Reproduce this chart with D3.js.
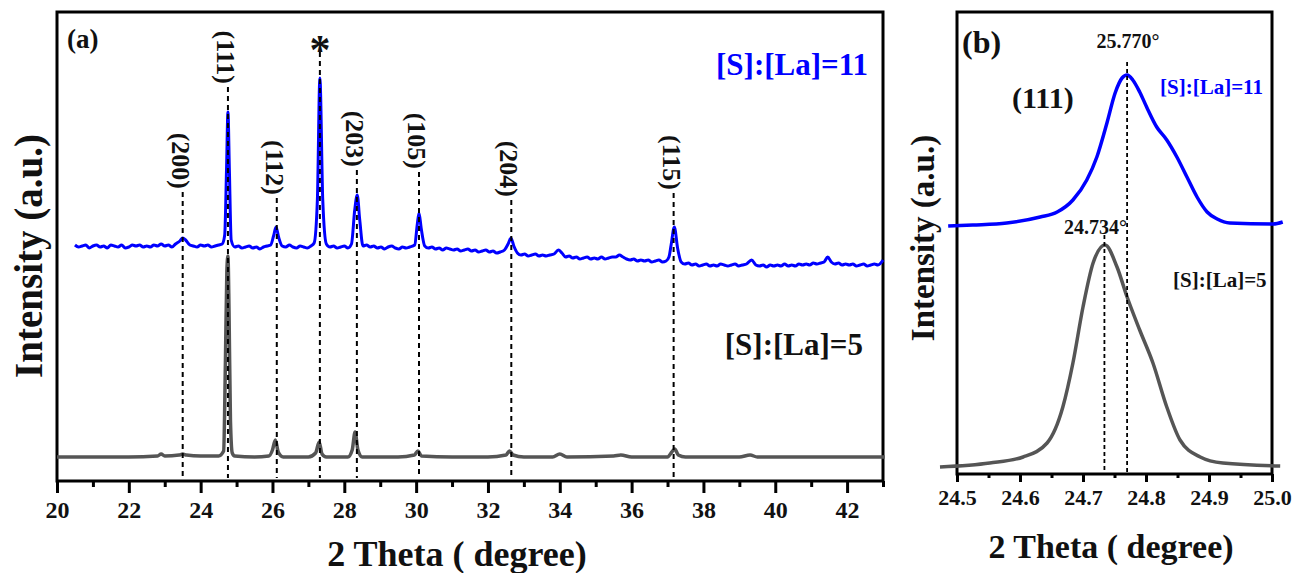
<!DOCTYPE html>
<html>
<head>
<meta charset="utf-8">
<script src="https://cdn.jsdelivr.net/npm/d3@7"></script>
<style>
  body { margin: 0; background: #fff; }
</style>
</head>
<body>
<svg id="chart" width="1293" height="573"></svg>
<script>
// panel (a): full scans, [2theta, intensity (a.u.)]
const scanS11 = [
    [20.50, 236], [20.60, 234], [20.70, 235], [20.80, 236], [20.90, 233], [21.00, 235], [21.10, 236],
    [21.20, 234], [21.30, 235], [21.40, 233], [21.50, 236], [21.60, 235], [21.70, 234], [21.80, 236],
    [21.90, 233], [22.00, 234], [22.10, 236], [22.20, 235], [22.30, 236], [22.40, 234], [22.50, 235],
    [22.60, 234], [22.70, 236], [22.80, 235], [22.90, 237], [23.00, 235], [23.10, 236], [23.20, 234],
    [23.30, 237], [23.42, 240], [23.50, 243], [23.58, 241], [23.70, 236], [23.80, 235], [23.90, 234],
    [24.00, 236], [24.10, 235], [24.20, 236], [24.30, 234], [24.40, 235], [24.50, 236], [24.60, 237],
    [24.67, 246], [24.72, 311], [24.76, 369], [24.80, 311], [24.85, 241], [24.95, 234], [25.05, 235],
    [25.15, 233], [25.25, 234], [25.35, 235], [25.45, 233], [25.55, 234], [25.65, 232], [25.75, 234],
    [25.85, 235], [25.95, 236], [26.03, 245], [26.10, 254], [26.17, 244], [26.27, 235], [26.37, 234],
    [26.47, 236], [26.57, 234], [26.67, 233], [26.77, 235], [26.87, 234], [26.97, 233], [27.07, 235],
    [27.16, 238], [27.25, 281], [27.32, 403], [27.40, 281], [27.50, 237], [27.60, 234], [27.70, 235],
    [27.80, 233], [27.90, 234], [28.00, 235], [28.10, 233], [28.20, 237], [28.29, 271], [28.36, 286],
    [28.43, 261], [28.52, 235], [28.62, 236], [28.72, 234], [28.82, 235], [28.92, 233], [29.02, 234],
    [29.12, 232], [29.22, 234], [29.32, 235], [29.42, 233], [29.52, 232], [29.62, 234], [29.72, 233],
    [29.82, 234], [29.96, 236], [30.03, 256], [30.08, 268], [30.14, 253], [30.24, 235], [30.34, 233],
    [30.44, 234], [30.54, 232], [30.64, 233], [30.74, 231], [30.84, 233], [30.94, 232], [31.04, 231],
    [31.14, 232], [31.24, 230], [31.34, 231], [31.44, 232], [31.54, 230], [31.64, 231], [31.74, 229],
    [31.84, 230], [31.94, 231], [32.04, 229], [32.14, 230], [32.24, 228], [32.34, 229], [32.46, 231],
    [32.56, 237], [32.64, 243], [32.72, 235], [32.82, 228], [32.92, 226], [33.02, 227], [33.12, 225],
    [33.22, 226], [33.32, 227], [33.42, 225], [33.52, 226], [33.62, 225], [33.72, 226], [33.84, 227],
    [33.96, 231], [34.06, 228], [34.16, 224], [34.26, 225], [34.36, 223], [34.46, 224], [34.56, 222],
    [34.66, 223], [34.76, 224], [34.86, 222], [34.96, 223], [35.06, 222], [35.16, 224], [35.26, 222],
    [35.36, 223], [35.46, 224], [35.56, 224], [35.66, 226], [35.76, 224], [35.86, 222], [35.96, 221],
    [36.06, 222], [36.16, 220], [36.26, 221], [36.36, 220], [36.46, 221], [36.56, 219], [36.66, 220],
    [36.76, 221], [36.86, 219], [36.96, 220], [37.04, 224], [37.10, 236], [37.19, 254], [37.28, 233],
    [37.38, 219], [37.48, 217], [37.58, 218], [37.68, 216], [37.78, 217], [37.88, 215], [37.98, 216],
    [38.08, 217], [38.18, 215], [38.28, 216], [38.38, 215], [38.48, 217], [38.58, 216], [38.68, 215],
    [38.78, 216], [38.88, 217], [38.98, 215], [39.08, 216], [39.20, 217], [39.34, 221], [39.46, 216],
    [39.56, 215], [39.66, 216], [39.76, 214], [39.86, 216], [39.96, 215], [40.06, 216], [40.16, 215],
    [40.26, 217], [40.36, 215], [40.46, 216], [40.56, 215], [40.66, 217], [40.76, 216], [40.86, 217],
    [40.96, 216], [41.06, 218], [41.16, 217], [41.26, 218], [41.36, 219], [41.46, 224], [41.56, 219],
    [41.66, 217], [41.76, 218], [41.86, 216], [41.96, 217], [42.06, 216], [42.16, 217], [42.26, 215],
    [42.36, 216], [42.46, 217], [42.56, 215], [42.66, 216], [42.76, 217], [42.86, 216], [42.94, 218],
    [43.00, 221]
];
const scanS5 = [
    [20.00, 24], [21.00, 24], [22.00, 24], [22.80, 25], [22.90, 27], [23.00, 25], [23.40, 26],
    [23.50, 27], [23.60, 26], [24.00, 25], [24.50, 25], [24.64, 30], [24.69, 120], [24.73, 210],
    [24.76, 225], [24.79, 170], [24.83, 60], [24.88, 28], [24.95, 25], [25.50, 24], [25.90, 25],
    [26.00, 31], [26.08, 41], [26.16, 29], [26.30, 24], [27.00, 24], [27.20, 28], [27.30, 39],
    [27.38, 27], [27.50, 24], [28.10, 24], [28.22, 31], [28.30, 49], [28.38, 31], [28.50, 24],
    [29.50, 24], [29.95, 26], [30.05, 30], [30.15, 25], [31.00, 24], [32.00, 24], [32.50, 26],
    [32.60, 30], [32.70, 26], [33.00, 24], [33.80, 24], [34.00, 27], [34.20, 24], [35.50, 25],
    [35.70, 26], [36.00, 24], [37.00, 24], [37.12, 29], [37.20, 32], [37.30, 26], [37.50, 24],
    [39.00, 24], [39.30, 26], [39.50, 24], [41.00, 24], [42.00, 24], [43.05, 24]
];

// panel (b): (111) reflection
const zoomS11 = [
    [24.486, 248], [24.525, 249], [24.579, 251], [24.632, 257], [24.659, 262], [24.684, 274],
    [24.706, 294], [24.722, 317], [24.738, 351], [24.751, 381], [24.762, 396], [24.770, 399],
    [24.779, 394], [24.790, 382], [24.801, 367], [24.817, 347], [24.833, 334], [24.849, 317],
    [24.865, 297], [24.881, 277], [24.897, 262], [24.913, 255], [24.933, 251], [25.002, 250],
    [25.017, 252]
];
const zoomS5 = [
    [24.473, 7], [24.552, 11], [24.605, 17], [24.643, 31], [24.668, 67], [24.684, 111],
    [24.700, 167], [24.716, 211], [24.735, 229], [24.754, 207], [24.770, 177], [24.790, 144],
    [24.811, 111], [24.833, 67], [24.854, 34], [24.886, 17], [24.922, 11], [25.013, 8]
];

const peakPos = [23.50, 24.76, 26.12, 27.32, 28.35, 30.08, 32.65, 37.17];
const peakTop = [289, 394, 283, 429, 311, 309, 281, 288];
const peakLabels = ["(200)", "(111)", "(112)", "*", "(203)", "(105)", "(204)", "(115)"];

const shiftPos = [24.734, 24.770];
const shiftTop = [239, 412];
const shiftLabels = ["24.734°", "25.770°"];

const ticksA = [20, 22, 24, 26, 28, 30, 32, 34, 36, 38, 40, 42];
const minorTicksA = [21, 23, 25, 27, 29, 31, 33, 35, 37, 39, 41, 43];
const ticksB = [24.5, 24.6, 24.7, 24.8, 24.9, 25.0];
const minorTicksB = [24.55, 24.65, 24.75, 24.85, 24.95];

const blue = "#0000ff";
const gray = "#555555";
const ink = "#111111";
const serif = '"Liberation Serif", "Times New Roman", serif';

const svg = d3.select("#chart");
svg.append("rect").attr("width", 1293).attr("height", 573).attr("fill", "#fff");

const A = { left: 57, right: 883, top: 12, bottom: 481 };
const B = { left: 957, right: 1272, top: 12, bottom: 474 };

const xA = d3.scaleLinear().domain([20, 43]).range([A.left, A.right]);
const yA = d3.scaleLinear().domain([0, 470]).range([A.bottom, A.bottom - 470]);
const xB = d3.scaleLinear().domain([24.5, 25.0]).range([B.left, B.right]);
const yB = d3.scaleLinear().domain([0, 462]).range([B.bottom, B.bottom - 462]);

function frame(p) {
    svg.append("rect")
        .attr("x", p.left).attr("y", p.top)
        .attr("width", p.right - p.left).attr("height", p.bottom - p.top)
        .attr("fill", "none").attr("stroke", "#000").attr("stroke-width", 3);
}

function axis(p, scale, major, minor, majorLen, minorLen, fmt, fontSize, pad) {
    const gMinor = svg.append("g")
        .attr("transform", `translate(0,${p.bottom})`)
        .call(d3.axisBottom(scale).tickValues(minor).tickSize(minorLen).tickFormat(""));
    const gMajor = svg.append("g")
        .attr("transform", `translate(0,${p.bottom})`)
        .call(d3.axisBottom(scale).tickValues(major).tickSize(majorLen).tickPadding(pad).tickFormat(fmt));
    [gMinor, gMajor].forEach(g => {
        g.select(".domain").remove();
        g.selectAll("line").attr("stroke", "#000").attr("stroke-width", 3);
    });
    gMajor.selectAll("text")
        .attr("font-size", fontSize)
        .attr("fill", ink);
}

function curve(data, x, y, color, width) {
    const line = d3.line()
        .x(d => x(d[0]))
        .y(d => y(d[1]))
        .curve(d3.curveMonotoneX);
    svg.append("path")
        .datum(data)
        .attr("d", line)
        .attr("fill", "none")
        .attr("stroke", color)
        .attr("stroke-width", width)
        .attr("stroke-linejoin", "round");
}

function label(txt, x, y, size, opts = {}) {
    return svg.append("text")
        .attr("x", x).attr("y", y)
        .attr("font-size", size)
        .attr("text-anchor", opts.anchor || "start")
        .attr("fill", opts.color || ink)
        .text(txt);
}

// ---- panel (a)
frame(A);
axis(A, xA, ticksA, minorTicksA, 12, 6, d3.format("d"), 24, 8);
curve(scanS5, xA, yA, gray, 3.5);
curve(scanS11, xA, yA, blue, 3);

peakPos.forEach((p, i) => {
    svg.append("line")
        .attr("x1", xA(p)).attr("x2", xA(p))
        .attr("y1", yA(peakTop[i])).attr("y2", A.bottom - 3)
        .attr("stroke", "#000").attr("stroke-width", 2)
        .attr("stroke-dasharray", "5,4");

    if (peakLabels[i] === "*") {
        label("*", xA(p), yA(peakTop[i]) + 12, 42, { anchor: "middle" });
    } else {
        svg.append("text")
            .attr("transform", `translate(${xA(p) - 2},${yA(peakTop[i]) - 3}) rotate(90)`)
            .attr("text-anchor", "end")
            .attr("dy", "0.35em")
            .attr("font-size", 26)
            .attr("fill", ink)
            .text(peakLabels[i]);
    }
});

label("(a)", 67, 48, 27);
label("[S]:[La]=11", 868, 75, 31, { anchor: "end", color: blue });
label("[S]:[La]=5", 863, 355, 31, { anchor: "end" });

svg.append("text")
    .attr("transform", "translate(42,256) rotate(-90)")
    .attr("text-anchor", "middle")
    .attr("font-size", 39)
    .attr("fill", ink)
    .text("Intensity (a.u.)");
label("2 Theta ( degree)", 457, 566, 36, { anchor: "middle" });

// ---- panel (b)
frame(B);
axis(B, xB, ticksB, minorTicksB, 8, 4, d3.format(".1f"), 22, 7);
curve(zoomS5, xB, yB, gray, 3.5);
curve(zoomS11, xB, yB, blue, 3.5);

shiftPos.forEach((p, i) => {
    svg.append("line")
        .attr("x1", xB(p)).attr("x2", xB(p))
        .attr("y1", yB(shiftTop[i])).attr("y2", B.bottom - 2)
        .attr("stroke", "#000").attr("stroke-width", 1.8)
        .attr("stroke-dasharray", "4,3");
});
label(shiftLabels[1], xB(shiftPos[1]) + 1, 48, 20, { anchor: "middle" });
label(shiftLabels[0], xB(shiftPos[0]) - 9, 234, 20, { anchor: "middle" });

label("(b)", 962, 53, 32);
label("(111)", 1012, 108, 30);
label("[S]:[La]=11", 1160, 94, 21, { color: blue });
label("[S]:[La]=5", 1173, 287, 21);

svg.append("text")
    .attr("transform", "translate(934,238) rotate(-90)")
    .attr("text-anchor", "middle")
    .attr("font-size", 33)
    .attr("fill", ink)
    .text("Intensity (a.u.)");
label("2 Theta ( degree)", 1111, 558, 34, { anchor: "middle" });

// one serif face for every label, axis ticks included
svg.selectAll("text")
    .style("font-family", serif)
    .style("font-weight", "bold");
</script>
</body>
</html>
